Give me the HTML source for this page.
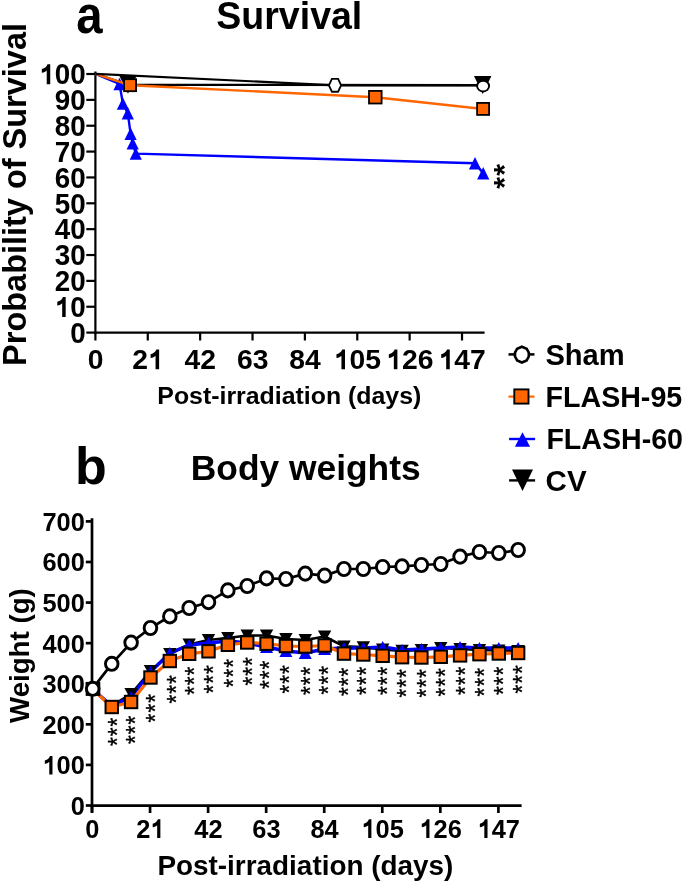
<!DOCTYPE html>
<html><head><meta charset="utf-8"><style>
html,body{margin:0;padding:0;background:#fff;}
svg{display:block;will-change:transform;}
text{font-family:"Liberation Sans", sans-serif;fill:#000;}
</style></head><body>
<svg width="685" height="883" viewBox="0 0 685 883">
<rect width="685" height="883" fill="#fff"/>
<text transform="translate(76.26,32.9) scale(0.893,1)" font-size="53" font-weight="bold">a</text>
<text x="216.30" y="29.20" font-size="39.5" font-weight="bold" text-anchor="start" textLength="146" lengthAdjust="spacingAndGlyphs">Survival</text>
<text transform="translate(26.3,365.9) rotate(-90)" font-size="33.6" font-weight="bold" textLength="342.9" lengthAdjust="spacingAndGlyphs">Probability of Survival</text>
<line x1="95.40" y1="71.50" x2="95.40" y2="333.60" stroke="#000" stroke-width="2.2"/>
<line x1="94.30" y1="332.60" x2="484.60" y2="332.60" stroke="#000" stroke-width="2.2"/>
<line x1="86.30" y1="332.60" x2="95.40" y2="332.60" stroke="#000" stroke-width="2.2"/>
<text transform="translate(70.19,342.90) scale(1,1.03)" font-size="27.8" font-weight="bold">0</text>
<line x1="86.30" y1="306.74" x2="95.40" y2="306.74" stroke="#000" stroke-width="2.2"/>
<path transform="translate(54.73,317.04) scale(0.02780,-0.02863)" d="M268,0 H394 V700 H296 C276,640 205,548 92,532 V402 C170,414 230,442 268,482 Z"/>
<text transform="translate(70.19,317.04) scale(1,1.03)" font-size="27.8" font-weight="bold">0</text>
<line x1="86.30" y1="280.88" x2="95.40" y2="280.88" stroke="#000" stroke-width="2.2"/>
<text transform="translate(54.73,291.18) scale(1,1.03)" font-size="27.8" font-weight="bold">2</text>
<text transform="translate(70.19,291.18) scale(1,1.03)" font-size="27.8" font-weight="bold">0</text>
<line x1="86.30" y1="255.02" x2="95.40" y2="255.02" stroke="#000" stroke-width="2.2"/>
<text transform="translate(54.73,265.32) scale(1,1.03)" font-size="27.8" font-weight="bold">3</text>
<text transform="translate(70.19,265.32) scale(1,1.03)" font-size="27.8" font-weight="bold">0</text>
<line x1="86.30" y1="229.16" x2="95.40" y2="229.16" stroke="#000" stroke-width="2.2"/>
<text transform="translate(54.73,239.46) scale(1,1.03)" font-size="27.8" font-weight="bold">4</text>
<text transform="translate(70.19,239.46) scale(1,1.03)" font-size="27.8" font-weight="bold">0</text>
<line x1="86.30" y1="203.30" x2="95.40" y2="203.30" stroke="#000" stroke-width="2.2"/>
<text transform="translate(54.73,213.60) scale(1,1.03)" font-size="27.8" font-weight="bold">5</text>
<text transform="translate(70.19,213.60) scale(1,1.03)" font-size="27.8" font-weight="bold">0</text>
<line x1="86.30" y1="177.44" x2="95.40" y2="177.44" stroke="#000" stroke-width="2.2"/>
<text transform="translate(54.73,187.74) scale(1,1.03)" font-size="27.8" font-weight="bold">6</text>
<text transform="translate(70.19,187.74) scale(1,1.03)" font-size="27.8" font-weight="bold">0</text>
<line x1="86.30" y1="151.58" x2="95.40" y2="151.58" stroke="#000" stroke-width="2.2"/>
<text transform="translate(54.73,161.88) scale(1,1.03)" font-size="27.8" font-weight="bold">7</text>
<text transform="translate(70.19,161.88) scale(1,1.03)" font-size="27.8" font-weight="bold">0</text>
<line x1="86.30" y1="125.72" x2="95.40" y2="125.72" stroke="#000" stroke-width="2.2"/>
<text transform="translate(54.73,136.02) scale(1,1.03)" font-size="27.8" font-weight="bold">8</text>
<text transform="translate(70.19,136.02) scale(1,1.03)" font-size="27.8" font-weight="bold">0</text>
<line x1="86.30" y1="99.86" x2="95.40" y2="99.86" stroke="#000" stroke-width="2.2"/>
<text transform="translate(54.73,110.16) scale(1,1.03)" font-size="27.8" font-weight="bold">9</text>
<text transform="translate(70.19,110.16) scale(1,1.03)" font-size="27.8" font-weight="bold">0</text>
<line x1="86.30" y1="74.00" x2="95.40" y2="74.00" stroke="#000" stroke-width="2.2"/>
<path transform="translate(39.27,84.30) scale(0.02780,-0.02863)" d="M268,0 H394 V700 H296 C276,640 205,548 92,532 V402 C170,414 230,442 268,482 Z"/>
<text transform="translate(54.73,84.30) scale(1,1.03)" font-size="27.8" font-weight="bold">0</text>
<text transform="translate(70.19,84.30) scale(1,1.03)" font-size="27.8" font-weight="bold">0</text>
<line x1="95.40" y1="332.60" x2="95.40" y2="340.50" stroke="#000" stroke-width="2.2"/>
<text transform="translate(87.73,369.30) scale(1,1.0)" font-size="28.3" font-weight="bold">0</text>
<line x1="147.77" y1="332.60" x2="147.77" y2="340.50" stroke="#000" stroke-width="2.2"/>
<text transform="translate(132.23,369.30) scale(1,1.0)" font-size="28.3" font-weight="bold">2</text>
<path transform="translate(147.97,369.30) scale(0.02830,-0.02830)" d="M268,0 H394 V700 H296 C276,640 205,548 92,532 V402 C170,414 230,442 268,482 Z"/>
<line x1="200.15" y1="332.60" x2="200.15" y2="340.50" stroke="#000" stroke-width="2.2"/>
<text transform="translate(184.61,369.30) scale(1,1.0)" font-size="28.3" font-weight="bold">4</text>
<text transform="translate(200.35,369.30) scale(1,1.0)" font-size="28.3" font-weight="bold">2</text>
<line x1="252.52" y1="332.60" x2="252.52" y2="340.50" stroke="#000" stroke-width="2.2"/>
<text transform="translate(236.98,369.30) scale(1,1.0)" font-size="28.3" font-weight="bold">6</text>
<text transform="translate(252.72,369.30) scale(1,1.0)" font-size="28.3" font-weight="bold">3</text>
<line x1="304.90" y1="332.60" x2="304.90" y2="340.50" stroke="#000" stroke-width="2.2"/>
<text transform="translate(289.36,369.30) scale(1,1.0)" font-size="28.3" font-weight="bold">8</text>
<text transform="translate(305.10,369.30) scale(1,1.0)" font-size="28.3" font-weight="bold">4</text>
<line x1="357.27" y1="332.60" x2="357.27" y2="340.50" stroke="#000" stroke-width="2.2"/>
<path transform="translate(333.86,369.30) scale(0.02830,-0.02830)" d="M268,0 H394 V700 H296 C276,640 205,548 92,532 V402 C170,414 230,442 268,482 Z"/>
<text transform="translate(349.60,369.30) scale(1,1.0)" font-size="28.3" font-weight="bold">0</text>
<text transform="translate(365.34,369.30) scale(1,1.0)" font-size="28.3" font-weight="bold">5</text>
<line x1="409.64" y1="332.60" x2="409.64" y2="340.50" stroke="#000" stroke-width="2.2"/>
<path transform="translate(386.24,369.30) scale(0.02830,-0.02830)" d="M268,0 H394 V700 H296 C276,640 205,548 92,532 V402 C170,414 230,442 268,482 Z"/>
<text transform="translate(401.97,369.30) scale(1,1.0)" font-size="28.3" font-weight="bold">2</text>
<text transform="translate(417.71,369.30) scale(1,1.0)" font-size="28.3" font-weight="bold">6</text>
<line x1="462.02" y1="332.60" x2="462.02" y2="340.50" stroke="#000" stroke-width="2.2"/>
<path transform="translate(438.61,369.30) scale(0.02830,-0.02830)" d="M268,0 H394 V700 H296 C276,640 205,548 92,532 V402 C170,414 230,442 268,482 Z"/>
<text transform="translate(454.35,369.30) scale(1,1.0)" font-size="28.3" font-weight="bold">4</text>
<text transform="translate(470.09,369.30) scale(1,1.0)" font-size="28.3" font-weight="bold">7</text>
<text x="157.30" y="403.80" font-size="24.8" font-weight="bold" text-anchor="start" textLength="264" lengthAdjust="spacingAndGlyphs">Post-irradiation (days)</text>
<polyline points="95.40,73.80 119.50,84.00 122.90,103.60 127.80,113.20 130.60,133.80 132.70,143.40 135.80,153.60 475.00,163.30 483.20,173.30" fill="none" stroke="#0000ff" stroke-width="2.4" stroke-linejoin="round"/>
<polygon points="113.40,90.20 125.60,90.20 119.50,77.80" fill="#0000ff"/>
<polygon points="116.80,109.80 129.00,109.80 122.90,97.40" fill="#0000ff"/>
<polygon points="121.70,119.40 133.90,119.40 127.80,107.00" fill="#0000ff"/>
<polygon points="124.50,140.00 136.70,140.00 130.60,127.60" fill="#0000ff"/>
<polygon points="126.60,149.60 138.80,149.60 132.70,137.20" fill="#0000ff"/>
<polygon points="129.70,159.80 141.90,159.80 135.80,147.40" fill="#0000ff"/>
<polygon points="468.90,169.50 481.10,169.50 475.00,157.10" fill="#0000ff"/>
<polygon points="477.10,179.50 489.30,179.50 483.20,167.10" fill="#0000ff"/>
<polyline points="95.40,73.80 128.50,84.80 483.00,85.10" fill="none" stroke="#000" stroke-width="2.2" stroke-linejoin="round"/>
<polygon points="119.20,75.40 136.80,75.40 128.00,93.80" fill="#000"/>
<polygon points="474.00,76.00 491.40,76.00 482.70,94.00" fill="#000"/>
<polyline points="95.40,73.80 130.50,85.30 375.30,97.20 483.30,109.00" fill="none" stroke="#ff6600" stroke-width="2.4" stroke-linejoin="round"/>
<rect x="124.10" y="79.20" width="12.0" height="12.0" fill="#ff6600" stroke="#000" stroke-width="1.8"/>
<rect x="369.00" y="90.90" width="12.6" height="12.6" fill="#ff6600" stroke="#000" stroke-width="1.8"/>
<rect x="477.10" y="102.90" width="12.0" height="12.0" fill="#ff6600" stroke="#000" stroke-width="1.8"/>
<polyline points="95.40,73.80 335.30,85.30 483.30,85.30" fill="none" stroke="#000" stroke-width="2.2" stroke-linejoin="round"/>
<polygon points="328.90,85.35 331.90,78.95 338.10,78.95 341.10,85.35 338.10,91.75 331.90,91.75" fill="#fff" stroke="#000" stroke-width="1.8" stroke-linejoin="miter"/>
<ellipse cx="483.1" cy="86.1" rx="6.0" ry="5.4" fill="#fff" stroke="#000" stroke-width="1.9"/>
<text transform="translate(513.96,175.67) rotate(-90)" font-size="30" font-weight="bold">*</text>
<text transform="translate(514.26,188.67) rotate(-90)" font-size="30" font-weight="bold">*</text>
<line x1="508.50" y1="354.40" x2="534.50" y2="354.40" stroke="#000" stroke-width="2.5"/>
<polygon points="521.90,346.70 526.65,348.73 528.79,352.69 528.79,356.51 526.65,360.47 521.90,362.50 517.15,360.47 515.01,356.51 515.01,352.69 517.15,348.73" fill="#fff" stroke="#000" stroke-width="2.6"/>
<line x1="508.50" y1="396.60" x2="534.50" y2="396.60" stroke="#ff6600" stroke-width="2.2"/>
<rect x="514.30" y="389.40" width="14.2" height="14.2" fill="#ff6600" stroke="#000" stroke-width="1.9"/>
<line x1="509.10" y1="439.00" x2="535.10" y2="439.00" stroke="#0000ff" stroke-width="2.4"/>
<polygon points="514.90,446.80 530.10,446.80 522.50,432.20" fill="#0000ff"/>
<line x1="509.10" y1="480.40" x2="535.10" y2="480.40" stroke="#000" stroke-width="2.4"/>
<polygon points="512.00,469.60 533.00,469.60 522.50,491.00" fill="#000"/>
<text x="545.40" y="365.20" font-size="28.6" font-weight="bold" text-anchor="start" textLength="79.3" lengthAdjust="spacingAndGlyphs">Sham</text>
<text x="545.60" y="406.80" font-size="28.6" font-weight="bold" text-anchor="start" textLength="136.6" lengthAdjust="spacingAndGlyphs">FLASH-95</text>
<text x="546.40" y="448.80" font-size="28.6" font-weight="bold" text-anchor="start" textLength="136.6" lengthAdjust="spacingAndGlyphs">FLASH-60</text>
<text x="545.60" y="491.20" font-size="28.6" font-weight="bold" text-anchor="start" textLength="41.0" lengthAdjust="spacingAndGlyphs">CV</text>
<text x="75.10" y="484.20" font-size="52" font-weight="bold" text-anchor="start">b</text>
<text x="190.80" y="479.60" font-size="35.5" font-weight="bold" text-anchor="start" textLength="229.8" lengthAdjust="spacingAndGlyphs">Body weights</text>
<text transform="translate(28.8,723) rotate(-90)" font-size="27.9" font-weight="bold" textLength="134.8" lengthAdjust="spacingAndGlyphs">Weight (g)</text>
<line x1="92.00" y1="518.20" x2="92.00" y2="812.50" stroke="#000" stroke-width="2.7"/>
<line x1="90.70" y1="805.70" x2="521.60" y2="805.70" stroke="#000" stroke-width="2.7"/>
<line x1="85.80" y1="805.50" x2="92.00" y2="805.50" stroke="#000" stroke-width="2.7"/>
<text transform="translate(70.72,815.00) scale(1,1.03)" font-size="25.4" font-weight="bold">0</text>
<line x1="85.80" y1="764.91" x2="92.00" y2="764.91" stroke="#000" stroke-width="2.7"/>
<path transform="translate(42.47,774.41) scale(0.02540,-0.02616)" d="M268,0 H394 V700 H296 C276,640 205,548 92,532 V402 C170,414 230,442 268,482 Z"/>
<text transform="translate(56.60,774.41) scale(1,1.03)" font-size="25.4" font-weight="bold">0</text>
<text transform="translate(70.72,774.41) scale(1,1.03)" font-size="25.4" font-weight="bold">0</text>
<line x1="85.80" y1="724.33" x2="92.00" y2="724.33" stroke="#000" stroke-width="2.7"/>
<text transform="translate(42.47,733.83) scale(1,1.03)" font-size="25.4" font-weight="bold">2</text>
<text transform="translate(56.60,733.83) scale(1,1.03)" font-size="25.4" font-weight="bold">0</text>
<text transform="translate(70.72,733.83) scale(1,1.03)" font-size="25.4" font-weight="bold">0</text>
<line x1="85.80" y1="683.74" x2="92.00" y2="683.74" stroke="#000" stroke-width="2.7"/>
<text transform="translate(42.47,693.24) scale(1,1.03)" font-size="25.4" font-weight="bold">3</text>
<text transform="translate(56.60,693.24) scale(1,1.03)" font-size="25.4" font-weight="bold">0</text>
<text transform="translate(70.72,693.24) scale(1,1.03)" font-size="25.4" font-weight="bold">0</text>
<line x1="85.80" y1="643.16" x2="92.00" y2="643.16" stroke="#000" stroke-width="2.7"/>
<text transform="translate(42.47,652.66) scale(1,1.03)" font-size="25.4" font-weight="bold">4</text>
<text transform="translate(56.60,652.66) scale(1,1.03)" font-size="25.4" font-weight="bold">0</text>
<text transform="translate(70.72,652.66) scale(1,1.03)" font-size="25.4" font-weight="bold">0</text>
<line x1="85.80" y1="602.57" x2="92.00" y2="602.57" stroke="#000" stroke-width="2.7"/>
<text transform="translate(42.47,612.07) scale(1,1.03)" font-size="25.4" font-weight="bold">5</text>
<text transform="translate(56.60,612.07) scale(1,1.03)" font-size="25.4" font-weight="bold">0</text>
<text transform="translate(70.72,612.07) scale(1,1.03)" font-size="25.4" font-weight="bold">0</text>
<line x1="85.80" y1="561.99" x2="92.00" y2="561.99" stroke="#000" stroke-width="2.7"/>
<text transform="translate(42.47,571.49) scale(1,1.03)" font-size="25.4" font-weight="bold">6</text>
<text transform="translate(56.60,571.49) scale(1,1.03)" font-size="25.4" font-weight="bold">0</text>
<text transform="translate(70.72,571.49) scale(1,1.03)" font-size="25.4" font-weight="bold">0</text>
<line x1="85.80" y1="521.40" x2="92.00" y2="521.40" stroke="#000" stroke-width="2.7"/>
<text transform="translate(42.47,530.90) scale(1,1.03)" font-size="25.4" font-weight="bold">7</text>
<text transform="translate(56.60,530.90) scale(1,1.03)" font-size="25.4" font-weight="bold">0</text>
<text transform="translate(70.72,530.90) scale(1,1.03)" font-size="25.4" font-weight="bold">0</text>
<line x1="92.00" y1="806.00" x2="92.00" y2="813.00" stroke="#000" stroke-width="2.7"/>
<text transform="translate(85.24,838.00) scale(1,1.05)" font-size="25.4" font-weight="bold">0</text>
<line x1="150.06" y1="806.00" x2="150.06" y2="813.00" stroke="#000" stroke-width="2.7"/>
<text transform="translate(136.23,838.00) scale(1,1.05)" font-size="25.4" font-weight="bold">2</text>
<path transform="translate(150.36,838.00) scale(0.02540,-0.02667)" d="M268,0 H394 V700 H296 C276,640 205,548 92,532 V402 C170,414 230,442 268,482 Z"/>
<line x1="208.11" y1="806.00" x2="208.11" y2="813.00" stroke="#000" stroke-width="2.7"/>
<text transform="translate(194.29,838.00) scale(1,1.05)" font-size="25.4" font-weight="bold">4</text>
<text transform="translate(208.41,838.00) scale(1,1.05)" font-size="25.4" font-weight="bold">2</text>
<line x1="266.17" y1="806.00" x2="266.17" y2="813.00" stroke="#000" stroke-width="2.7"/>
<text transform="translate(252.34,838.00) scale(1,1.05)" font-size="25.4" font-weight="bold">6</text>
<text transform="translate(266.47,838.00) scale(1,1.05)" font-size="25.4" font-weight="bold">3</text>
<line x1="324.23" y1="806.00" x2="324.23" y2="813.00" stroke="#000" stroke-width="2.7"/>
<text transform="translate(310.40,838.00) scale(1,1.05)" font-size="25.4" font-weight="bold">8</text>
<text transform="translate(324.53,838.00) scale(1,1.05)" font-size="25.4" font-weight="bold">4</text>
<line x1="382.28" y1="806.00" x2="382.28" y2="813.00" stroke="#000" stroke-width="2.7"/>
<path transform="translate(361.39,838.00) scale(0.02540,-0.02667)" d="M268,0 H394 V700 H296 C276,640 205,548 92,532 V402 C170,414 230,442 268,482 Z"/>
<text transform="translate(375.52,838.00) scale(1,1.05)" font-size="25.4" font-weight="bold">0</text>
<text transform="translate(389.65,838.00) scale(1,1.05)" font-size="25.4" font-weight="bold">5</text>
<line x1="440.34" y1="806.00" x2="440.34" y2="813.00" stroke="#000" stroke-width="2.7"/>
<path transform="translate(419.45,838.00) scale(0.02540,-0.02667)" d="M268,0 H394 V700 H296 C276,640 205,548 92,532 V402 C170,414 230,442 268,482 Z"/>
<text transform="translate(433.58,838.00) scale(1,1.05)" font-size="25.4" font-weight="bold">2</text>
<text transform="translate(447.70,838.00) scale(1,1.05)" font-size="25.4" font-weight="bold">6</text>
<line x1="498.40" y1="806.00" x2="498.40" y2="813.00" stroke="#000" stroke-width="2.7"/>
<path transform="translate(477.51,838.00) scale(0.02540,-0.02667)" d="M268,0 H394 V700 H296 C276,640 205,548 92,532 V402 C170,414 230,442 268,482 Z"/>
<text transform="translate(491.63,838.00) scale(1,1.05)" font-size="25.4" font-weight="bold">4</text>
<text transform="translate(505.76,838.00) scale(1,1.05)" font-size="25.4" font-weight="bold">7</text>
<text x="157.40" y="874.90" font-size="27.6" font-weight="bold" text-anchor="start" textLength="296" lengthAdjust="spacingAndGlyphs">Post-irradiation (days)</text>
<polyline points="92.40,688.80 111.75,663.80 131.10,642.60 150.46,628.00 169.81,616.40 189.16,608.00 208.51,602.20 227.87,590.40 247.22,586.00 266.57,578.40 285.92,579.00 305.27,573.60 324.63,575.60 343.98,569.00 363.33,569.00 382.68,567.00 402.04,566.40 421.39,565.00 440.74,564.00 460.09,556.60 479.44,552.00 498.80,553.00 518.15,550.00" fill="none" stroke="#000" stroke-width="2.7" stroke-linejoin="round"/>
<polyline points="92.40,689.00 111.75,706.00 131.10,694.00 150.46,671.00 169.81,654.00 189.16,644.50 208.51,640.00 227.87,638.00 247.22,635.50 266.57,635.50 285.92,639.00 305.27,640.00 324.63,636.50 343.98,646.40 363.33,647.20 382.68,649.40 402.04,650.80 421.39,650.00 440.74,648.00 460.09,649.00 479.44,650.00 498.80,650.40 518.15,651.00" fill="none" stroke="#000" stroke-width="2.7" stroke-linejoin="round"/>
<polyline points="92.40,689.00 111.75,706.00 131.10,697.00 150.46,672.00 169.81,653.00 189.16,645.00 208.51,643.00 227.87,641.00 247.22,643.00 266.57,647.00 285.92,651.00 305.27,653.00 324.63,649.00 343.98,648.00 363.33,648.00 382.68,647.00 402.04,650.00 421.39,649.00 440.74,648.00 460.09,647.00 479.44,648.00 498.80,648.00 518.15,648.00" fill="none" stroke="#0000ff" stroke-width="3.4" stroke-linejoin="round"/>
<polyline points="92.40,689.00 111.75,707.00 131.10,702.00 150.46,677.50 169.81,661.00 189.16,653.80 208.51,651.30 227.87,644.80 247.22,642.50 266.57,643.70 285.92,646.00 305.27,646.50 324.63,645.50 343.98,653.60 363.33,654.50 382.68,655.80 402.04,657.20 421.39,657.50 440.74,656.80 460.09,655.40 479.44,654.20 498.80,653.50 518.15,653.00" fill="none" stroke="#ff6600" stroke-width="3.2" stroke-linejoin="round"/>
<polygon points="85.70,683.00 99.10,683.00 92.40,695.00" fill="#000"/>
<polygon points="105.05,700.00 118.45,700.00 111.75,712.00" fill="#000"/>
<polygon points="124.40,688.00 137.80,688.00 131.10,700.00" fill="#000"/>
<polygon points="143.76,665.00 157.16,665.00 150.46,677.00" fill="#000"/>
<polygon points="163.11,648.00 176.51,648.00 169.81,660.00" fill="#000"/>
<polygon points="182.46,638.50 195.86,638.50 189.16,650.50" fill="#000"/>
<polygon points="201.81,634.00 215.21,634.00 208.51,646.00" fill="#000"/>
<polygon points="221.17,632.00 234.57,632.00 227.87,644.00" fill="#000"/>
<polygon points="240.52,629.50 253.92,629.50 247.22,641.50" fill="#000"/>
<polygon points="259.87,629.50 273.27,629.50 266.57,641.50" fill="#000"/>
<polygon points="279.22,633.00 292.62,633.00 285.92,645.00" fill="#000"/>
<polygon points="298.57,634.00 311.97,634.00 305.27,646.00" fill="#000"/>
<polygon points="317.93,630.50 331.33,630.50 324.63,642.50" fill="#000"/>
<polygon points="337.28,640.40 350.68,640.40 343.98,652.40" fill="#000"/>
<polygon points="356.63,641.20 370.03,641.20 363.33,653.20" fill="#000"/>
<polygon points="375.98,643.40 389.38,643.40 382.68,655.40" fill="#000"/>
<polygon points="395.34,644.80 408.74,644.80 402.04,656.80" fill="#000"/>
<polygon points="414.69,644.00 428.09,644.00 421.39,656.00" fill="#000"/>
<polygon points="434.04,642.00 447.44,642.00 440.74,654.00" fill="#000"/>
<polygon points="453.39,643.00 466.79,643.00 460.09,655.00" fill="#000"/>
<polygon points="472.74,644.00 486.14,644.00 479.44,656.00" fill="#000"/>
<polygon points="492.10,644.40 505.50,644.40 498.80,656.40" fill="#000"/>
<polygon points="511.45,645.00 524.85,645.00 518.15,657.00" fill="#000"/>
<polygon points="85.90,695.00 98.90,695.00 92.40,683.00" fill="#0000ff"/>
<polygon points="105.25,712.00 118.25,712.00 111.75,700.00" fill="#0000ff"/>
<polygon points="124.60,703.00 137.60,703.00 131.10,691.00" fill="#0000ff"/>
<polygon points="143.96,678.00 156.96,678.00 150.46,666.00" fill="#0000ff"/>
<polygon points="163.31,659.00 176.31,659.00 169.81,647.00" fill="#0000ff"/>
<polygon points="182.66,651.00 195.66,651.00 189.16,639.00" fill="#0000ff"/>
<polygon points="202.01,649.00 215.01,649.00 208.51,637.00" fill="#0000ff"/>
<polygon points="221.37,647.00 234.37,647.00 227.87,635.00" fill="#0000ff"/>
<polygon points="240.72,649.00 253.72,649.00 247.22,637.00" fill="#0000ff"/>
<polygon points="260.07,653.00 273.07,653.00 266.57,641.00" fill="#0000ff"/>
<polygon points="279.42,657.00 292.42,657.00 285.92,645.00" fill="#0000ff"/>
<polygon points="298.77,659.00 311.77,659.00 305.27,647.00" fill="#0000ff"/>
<polygon points="318.13,655.00 331.13,655.00 324.63,643.00" fill="#0000ff"/>
<polygon points="337.48,654.00 350.48,654.00 343.98,642.00" fill="#0000ff"/>
<polygon points="356.83,654.00 369.83,654.00 363.33,642.00" fill="#0000ff"/>
<polygon points="376.18,653.00 389.18,653.00 382.68,641.00" fill="#0000ff"/>
<polygon points="395.54,656.00 408.54,656.00 402.04,644.00" fill="#0000ff"/>
<polygon points="414.89,655.00 427.89,655.00 421.39,643.00" fill="#0000ff"/>
<polygon points="434.24,654.00 447.24,654.00 440.74,642.00" fill="#0000ff"/>
<polygon points="453.59,653.00 466.59,653.00 460.09,641.00" fill="#0000ff"/>
<polygon points="472.94,654.00 485.94,654.00 479.44,642.00" fill="#0000ff"/>
<polygon points="492.30,654.00 505.30,654.00 498.80,642.00" fill="#0000ff"/>
<polygon points="511.65,654.00 524.65,654.00 518.15,642.00" fill="#0000ff"/>
<rect x="85.70" y="681.90" width="14.6" height="14" fill="#000"/>
<rect x="105.55" y="700.80" width="12.4" height="12.4" fill="#ff6600" stroke="#000" stroke-width="2.0"/>
<rect x="124.90" y="695.80" width="12.4" height="12.4" fill="#ff6600" stroke="#000" stroke-width="2.0"/>
<rect x="144.26" y="671.30" width="12.4" height="12.4" fill="#ff6600" stroke="#000" stroke-width="2.0"/>
<rect x="163.61" y="654.80" width="12.4" height="12.4" fill="#ff6600" stroke="#000" stroke-width="2.0"/>
<rect x="182.96" y="647.60" width="12.4" height="12.4" fill="#ff6600" stroke="#000" stroke-width="2.0"/>
<rect x="202.31" y="645.10" width="12.4" height="12.4" fill="#ff6600" stroke="#000" stroke-width="2.0"/>
<rect x="221.67" y="638.60" width="12.4" height="12.4" fill="#ff6600" stroke="#000" stroke-width="2.0"/>
<rect x="241.02" y="636.30" width="12.4" height="12.4" fill="#ff6600" stroke="#000" stroke-width="2.0"/>
<rect x="260.37" y="637.50" width="12.4" height="12.4" fill="#ff6600" stroke="#000" stroke-width="2.0"/>
<rect x="279.72" y="639.80" width="12.4" height="12.4" fill="#ff6600" stroke="#000" stroke-width="2.0"/>
<rect x="299.07" y="640.30" width="12.4" height="12.4" fill="#ff6600" stroke="#000" stroke-width="2.0"/>
<rect x="318.43" y="639.30" width="12.4" height="12.4" fill="#ff6600" stroke="#000" stroke-width="2.0"/>
<rect x="337.78" y="647.40" width="12.4" height="12.4" fill="#ff6600" stroke="#000" stroke-width="2.0"/>
<rect x="357.13" y="648.30" width="12.4" height="12.4" fill="#ff6600" stroke="#000" stroke-width="2.0"/>
<rect x="376.48" y="649.60" width="12.4" height="12.4" fill="#ff6600" stroke="#000" stroke-width="2.0"/>
<rect x="395.84" y="651.00" width="12.4" height="12.4" fill="#ff6600" stroke="#000" stroke-width="2.0"/>
<rect x="415.19" y="651.30" width="12.4" height="12.4" fill="#ff6600" stroke="#000" stroke-width="2.0"/>
<rect x="434.54" y="650.60" width="12.4" height="12.4" fill="#ff6600" stroke="#000" stroke-width="2.0"/>
<rect x="453.89" y="649.20" width="12.4" height="12.4" fill="#ff6600" stroke="#000" stroke-width="2.0"/>
<rect x="473.24" y="648.00" width="12.4" height="12.4" fill="#ff6600" stroke="#000" stroke-width="2.0"/>
<rect x="492.60" y="647.30" width="12.4" height="12.4" fill="#ff6600" stroke="#000" stroke-width="2.0"/>
<rect x="511.95" y="646.80" width="12.4" height="12.4" fill="#ff6600" stroke="#000" stroke-width="2.0"/>
<ellipse cx="92.70" cy="688.80" rx="6.3" ry="6.6" fill="#fff" stroke="#000" stroke-width="2.9"/>
<ellipse cx="111.75" cy="663.80" rx="6.3" ry="6.6" fill="#fff" stroke="#000" stroke-width="2.9"/>
<ellipse cx="131.10" cy="642.60" rx="6.3" ry="6.6" fill="#fff" stroke="#000" stroke-width="2.9"/>
<ellipse cx="150.46" cy="628.00" rx="6.3" ry="6.6" fill="#fff" stroke="#000" stroke-width="2.9"/>
<ellipse cx="169.81" cy="616.40" rx="6.3" ry="6.6" fill="#fff" stroke="#000" stroke-width="2.9"/>
<ellipse cx="189.16" cy="608.00" rx="6.3" ry="6.6" fill="#fff" stroke="#000" stroke-width="2.9"/>
<ellipse cx="208.51" cy="602.20" rx="6.3" ry="6.6" fill="#fff" stroke="#000" stroke-width="2.9"/>
<ellipse cx="227.87" cy="590.40" rx="6.3" ry="6.6" fill="#fff" stroke="#000" stroke-width="2.9"/>
<ellipse cx="247.22" cy="586.00" rx="6.3" ry="6.6" fill="#fff" stroke="#000" stroke-width="2.9"/>
<ellipse cx="266.57" cy="578.40" rx="6.3" ry="6.6" fill="#fff" stroke="#000" stroke-width="2.9"/>
<ellipse cx="285.92" cy="579.00" rx="6.3" ry="6.6" fill="#fff" stroke="#000" stroke-width="2.9"/>
<ellipse cx="305.27" cy="573.60" rx="6.3" ry="6.6" fill="#fff" stroke="#000" stroke-width="2.9"/>
<ellipse cx="324.63" cy="575.60" rx="6.3" ry="6.6" fill="#fff" stroke="#000" stroke-width="2.9"/>
<ellipse cx="343.98" cy="569.00" rx="6.3" ry="6.6" fill="#fff" stroke="#000" stroke-width="2.9"/>
<ellipse cx="363.33" cy="569.00" rx="6.3" ry="6.6" fill="#fff" stroke="#000" stroke-width="2.9"/>
<ellipse cx="382.68" cy="567.00" rx="6.3" ry="6.6" fill="#fff" stroke="#000" stroke-width="2.9"/>
<ellipse cx="402.04" cy="566.40" rx="6.3" ry="6.6" fill="#fff" stroke="#000" stroke-width="2.9"/>
<ellipse cx="421.39" cy="565.00" rx="6.3" ry="6.6" fill="#fff" stroke="#000" stroke-width="2.9"/>
<ellipse cx="440.74" cy="564.00" rx="6.3" ry="6.6" fill="#fff" stroke="#000" stroke-width="2.9"/>
<ellipse cx="460.09" cy="556.60" rx="6.3" ry="6.6" fill="#fff" stroke="#000" stroke-width="2.9"/>
<ellipse cx="479.44" cy="552.00" rx="6.3" ry="6.6" fill="#fff" stroke="#000" stroke-width="2.9"/>
<ellipse cx="498.80" cy="553.00" rx="6.3" ry="6.6" fill="#fff" stroke="#000" stroke-width="2.9"/>
<ellipse cx="518.15" cy="550.00" rx="6.3" ry="6.6" fill="#fff" stroke="#000" stroke-width="2.9"/>
<text transform="translate(125.76,726.38) scale(1,0.9) rotate(-90)" font-size="25" stroke="#000" stroke-width="0.35">*</text>
<text transform="translate(125.76,736.18) scale(1,0.9) rotate(-90)" font-size="25" stroke="#000" stroke-width="0.35">*</text>
<text transform="translate(125.76,745.98) scale(1,0.9) rotate(-90)" font-size="25" stroke="#000" stroke-width="0.35">*</text>
<text transform="translate(144.12,724.38) scale(1,0.9) rotate(-90)" font-size="25" stroke="#000" stroke-width="0.35">*</text>
<text transform="translate(144.12,734.18) scale(1,0.9) rotate(-90)" font-size="25" stroke="#000" stroke-width="0.35">*</text>
<text transform="translate(144.12,743.98) scale(1,0.9) rotate(-90)" font-size="25" stroke="#000" stroke-width="0.35">*</text>
<text transform="translate(163.97,702.78) scale(1,0.9) rotate(-90)" font-size="25" stroke="#000" stroke-width="0.35">*</text>
<text transform="translate(163.97,712.58) scale(1,0.9) rotate(-90)" font-size="25" stroke="#000" stroke-width="0.35">*</text>
<text transform="translate(163.97,722.38) scale(1,0.9) rotate(-90)" font-size="25" stroke="#000" stroke-width="0.35">*</text>
<text transform="translate(184.52,683.98) scale(1,0.9) rotate(-90)" font-size="25" stroke="#000" stroke-width="0.35">*</text>
<text transform="translate(184.52,693.78) scale(1,0.9) rotate(-90)" font-size="25" stroke="#000" stroke-width="0.35">*</text>
<text transform="translate(184.52,703.58) scale(1,0.9) rotate(-90)" font-size="25" stroke="#000" stroke-width="0.35">*</text>
<text transform="translate(203.17,675.38) scale(1,0.9) rotate(-90)" font-size="25" stroke="#000" stroke-width="0.35">*</text>
<text transform="translate(203.17,685.18) scale(1,0.9) rotate(-90)" font-size="25" stroke="#000" stroke-width="0.35">*</text>
<text transform="translate(203.17,694.98) scale(1,0.9) rotate(-90)" font-size="25" stroke="#000" stroke-width="0.35">*</text>
<text transform="translate(221.92,673.98) scale(1,0.9) rotate(-90)" font-size="25" stroke="#000" stroke-width="0.35">*</text>
<text transform="translate(221.92,683.78) scale(1,0.9) rotate(-90)" font-size="25" stroke="#000" stroke-width="0.35">*</text>
<text transform="translate(221.92,693.58) scale(1,0.9) rotate(-90)" font-size="25" stroke="#000" stroke-width="0.35">*</text>
<text transform="translate(241.88,667.78) scale(1,0.9) rotate(-90)" font-size="25" stroke="#000" stroke-width="0.35">*</text>
<text transform="translate(241.88,677.58) scale(1,0.9) rotate(-90)" font-size="25" stroke="#000" stroke-width="0.35">*</text>
<text transform="translate(241.88,687.38) scale(1,0.9) rotate(-90)" font-size="25" stroke="#000" stroke-width="0.35">*</text>
<text transform="translate(261.23,665.98) scale(1,0.9) rotate(-90)" font-size="25" stroke="#000" stroke-width="0.35">*</text>
<text transform="translate(261.23,675.78) scale(1,0.9) rotate(-90)" font-size="25" stroke="#000" stroke-width="0.35">*</text>
<text transform="translate(261.23,685.58) scale(1,0.9) rotate(-90)" font-size="25" stroke="#000" stroke-width="0.35">*</text>
<text transform="translate(277.98,669.38) scale(1,0.9) rotate(-90)" font-size="25" stroke="#000" stroke-width="0.35">*</text>
<text transform="translate(277.98,679.18) scale(1,0.9) rotate(-90)" font-size="25" stroke="#000" stroke-width="0.35">*</text>
<text transform="translate(277.98,688.98) scale(1,0.9) rotate(-90)" font-size="25" stroke="#000" stroke-width="0.35">*</text>
<text transform="translate(297.63,673.98) scale(1,0.9) rotate(-90)" font-size="25" stroke="#000" stroke-width="0.35">*</text>
<text transform="translate(297.63,683.78) scale(1,0.9) rotate(-90)" font-size="25" stroke="#000" stroke-width="0.35">*</text>
<text transform="translate(297.63,693.58) scale(1,0.9) rotate(-90)" font-size="25" stroke="#000" stroke-width="0.35">*</text>
<text transform="translate(319.29,675.38) scale(1,0.9) rotate(-90)" font-size="25" stroke="#000" stroke-width="0.35">*</text>
<text transform="translate(319.29,685.18) scale(1,0.9) rotate(-90)" font-size="25" stroke="#000" stroke-width="0.35">*</text>
<text transform="translate(319.29,694.98) scale(1,0.9) rotate(-90)" font-size="25" stroke="#000" stroke-width="0.35">*</text>
<text transform="translate(337.34,674.78) scale(1,0.9) rotate(-90)" font-size="25" stroke="#000" stroke-width="0.35">*</text>
<text transform="translate(337.34,684.58) scale(1,0.9) rotate(-90)" font-size="25" stroke="#000" stroke-width="0.35">*</text>
<text transform="translate(337.34,694.38) scale(1,0.9) rotate(-90)" font-size="25" stroke="#000" stroke-width="0.35">*</text>
<text transform="translate(357.39,676.38) scale(1,0.9) rotate(-90)" font-size="25" stroke="#000" stroke-width="0.35">*</text>
<text transform="translate(357.39,686.18) scale(1,0.9) rotate(-90)" font-size="25" stroke="#000" stroke-width="0.35">*</text>
<text transform="translate(357.39,695.98) scale(1,0.9) rotate(-90)" font-size="25" stroke="#000" stroke-width="0.35">*</text>
<text transform="translate(374.54,675.38) scale(1,0.9) rotate(-90)" font-size="25" stroke="#000" stroke-width="0.35">*</text>
<text transform="translate(374.54,685.18) scale(1,0.9) rotate(-90)" font-size="25" stroke="#000" stroke-width="0.35">*</text>
<text transform="translate(374.54,694.98) scale(1,0.9) rotate(-90)" font-size="25" stroke="#000" stroke-width="0.35">*</text>
<text transform="translate(395.69,675.38) scale(1,0.9) rotate(-90)" font-size="25" stroke="#000" stroke-width="0.35">*</text>
<text transform="translate(395.69,685.18) scale(1,0.9) rotate(-90)" font-size="25" stroke="#000" stroke-width="0.35">*</text>
<text transform="translate(395.69,694.98) scale(1,0.9) rotate(-90)" font-size="25" stroke="#000" stroke-width="0.35">*</text>
<text transform="translate(415.35,677.98) scale(1,0.9) rotate(-90)" font-size="25" stroke="#000" stroke-width="0.35">*</text>
<text transform="translate(415.35,687.78) scale(1,0.9) rotate(-90)" font-size="25" stroke="#000" stroke-width="0.35">*</text>
<text transform="translate(415.35,697.58) scale(1,0.9) rotate(-90)" font-size="25" stroke="#000" stroke-width="0.35">*</text>
<text transform="translate(435.00,677.98) scale(1,0.9) rotate(-90)" font-size="25" stroke="#000" stroke-width="0.35">*</text>
<text transform="translate(435.00,687.78) scale(1,0.9) rotate(-90)" font-size="25" stroke="#000" stroke-width="0.35">*</text>
<text transform="translate(435.00,697.58) scale(1,0.9) rotate(-90)" font-size="25" stroke="#000" stroke-width="0.35">*</text>
<text transform="translate(453.95,676.98) scale(1,0.9) rotate(-90)" font-size="25" stroke="#000" stroke-width="0.35">*</text>
<text transform="translate(453.95,686.78) scale(1,0.9) rotate(-90)" font-size="25" stroke="#000" stroke-width="0.35">*</text>
<text transform="translate(453.95,696.58) scale(1,0.9) rotate(-90)" font-size="25" stroke="#000" stroke-width="0.35">*</text>
<text transform="translate(473.60,675.38) scale(1,0.9) rotate(-90)" font-size="25" stroke="#000" stroke-width="0.35">*</text>
<text transform="translate(473.60,685.18) scale(1,0.9) rotate(-90)" font-size="25" stroke="#000" stroke-width="0.35">*</text>
<text transform="translate(473.60,694.98) scale(1,0.9) rotate(-90)" font-size="25" stroke="#000" stroke-width="0.35">*</text>
<text transform="translate(493.06,676.78) scale(1,0.9) rotate(-90)" font-size="25" stroke="#000" stroke-width="0.35">*</text>
<text transform="translate(493.06,686.58) scale(1,0.9) rotate(-90)" font-size="25" stroke="#000" stroke-width="0.35">*</text>
<text transform="translate(493.06,696.38) scale(1,0.9) rotate(-90)" font-size="25" stroke="#000" stroke-width="0.35">*</text>
<text transform="translate(511.81,675.38) scale(1,0.9) rotate(-90)" font-size="25" stroke="#000" stroke-width="0.35">*</text>
<text transform="translate(511.81,685.18) scale(1,0.9) rotate(-90)" font-size="25" stroke="#000" stroke-width="0.35">*</text>
<text transform="translate(511.81,694.98) scale(1,0.9) rotate(-90)" font-size="25" stroke="#000" stroke-width="0.35">*</text>
<text transform="translate(531.46,673.98) scale(1,0.9) rotate(-90)" font-size="25" stroke="#000" stroke-width="0.35">*</text>
<text transform="translate(531.46,683.78) scale(1,0.9) rotate(-90)" font-size="25" stroke="#000" stroke-width="0.35">*</text>
<text transform="translate(531.46,693.58) scale(1,0.9) rotate(-90)" font-size="25" stroke="#000" stroke-width="0.35">*</text>
</svg>
</body></html>
